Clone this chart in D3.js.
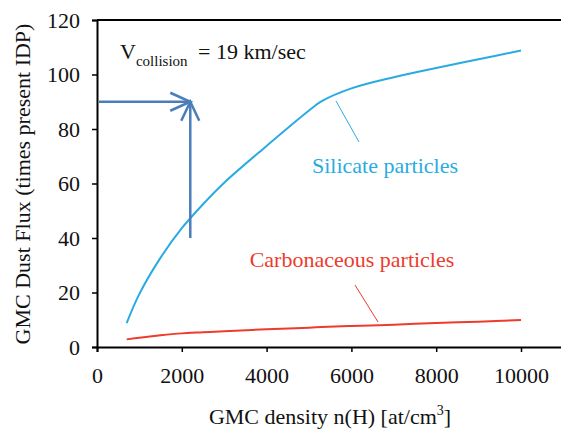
<!DOCTYPE html>
<html>
<head>
<meta charset="utf-8">
<script src="https://d3js.org/d3.v7.min.js"></script>
<style>
  body { margin: 0; background: #fff; }
</style>
</head>
<body>
<div id="chart"></div>
<script>
// Values
const density = [700, 1000, 1500, 2000, 2500, 3000, 4000, 5000, 5300, 6000, 7000, 8000, 9000, 10000];
const silicate = [8.8, 19.5, 32.8, 43.6, 52.4, 60.3, 73.8, 86.8, 90.2, 94.9, 99, 102.4, 105.6, 108.8];
const carbonaceous = [2.8, 3.4, 4.3, 5.0, 5.4, 5.8, 6.5, 7.1, 7.3, 7.7, 8.2, 8.8, 9.3, 9.9];
const xTicks = [0, 2000, 4000, 6000, 8000, 10000];
const yTicks = [0, 20, 40, 60, 80, 100, 120];
// reading guide: from the y axis at 90 over to x=2200, and up from 40
const guideX = 2200, guideY = 90, guideFromY = 40;

const width = 561, height = 430;
const margin = { top: 20, left: 97, bottom: 83 };

const svg = d3.select('#chart').append('svg')
    .attr('width', width)
    .attr('height', height);

const x = d3.scaleLinear().domain([0, 11000]).range([margin.left, margin.left + 466.4]);
const y = d3.scaleLinear().domain([0, 120]).range([height - margin.bottom, margin.top]);

// top frame line
svg.append('line')
    .attr('x1', x(0)).attr('x2', width)
    .attr('y1', y(120)).attr('y2', y(120))
    .attr('stroke', '#000').attr('stroke-width', 2);

// axes
const xAxis = svg.append('g')
    .attr('transform', `translate(0,${y(0)})`)
    .call(d3.axisBottom(x).tickValues(xTicks).tickFormat(d3.format('d')).tickSize(5).tickPadding(15));
xAxis.select('.domain').attr('stroke-width', 2);

const yAxis = svg.append('g')
    .attr('transform', `translate(${x(0)},0)`)
    .call(d3.axisLeft(y).tickValues(yTicks).tickSize(5).tickPadding(12));
yAxis.select('.domain').attr('stroke-width', 2);

svg.selectAll('.tick text')
    .attr('font-size', 22)
    .attr('fill', '#111');
svg.selectAll('.tick line').attr('stroke-width', 1.5);

// axis titles
const xTitle = svg.append('text')
    .attr('x', 330).attr('y', 424)
    .attr('text-anchor', 'middle')
    .attr('font-size', 22)
    .attr('fill', '#111');
xTitle.append('tspan').text('GMC density n(H) [at/cm');
xTitle.append('tspan').attr('dy', -9).attr('font-size', 14).text('3');
xTitle.append('tspan').attr('dy', 9).attr('font-size', 22).text(']');

svg.append('text')
    .attr('transform', 'translate(30,184) rotate(-90)')
    .attr('text-anchor', 'middle')
    .attr('font-size', 22)
    .attr('fill', '#111')
    .text('GMC Dust Flux (times present IDP)');

// curves
const line = d3.line()
    .x(d => x(d[0]))
    .y(d => y(d[1]))
    .curve(d3.curveCatmullRom.alpha(0.5));

svg.append('path')
    .datum(d3.zip(density, silicate))
    .attr('d', line)
    .attr('fill', 'none')
    .attr('stroke', '#29abe2')
    .attr('stroke-width', 2);

svg.append('path')
    .datum(d3.zip(density, carbonaceous))
    .attr('d', line)
    .attr('fill', 'none')
    .attr('stroke', '#ee3b2b')
    .attr('stroke-width', 2);

// series labels with leader lines
svg.append('line')
    .attr('x1', 336).attr('y1', 101).attr('x2', 359).attr('y2', 142)
    .attr('stroke', '#29abe2').attr('stroke-width', 1);
svg.append('text')
    .attr('x', 385).attr('y', 173)
    .attr('text-anchor', 'middle')
    .attr('font-size', 22)
    .attr('fill', '#29abe2')
    .text('Silicate particles');

svg.append('line')
    .attr('x1', 355).attr('y1', 285).attr('x2', 378).attr('y2', 322)
    .attr('stroke', '#ee3b2b').attr('stroke-width', 1);
svg.append('text')
    .attr('x', 352).attr('y', 267)
    .attr('text-anchor', 'middle')
    .attr('font-size', 22)
    .attr('fill', '#ee3b2b')
    .text('Carbonaceous particles');

// V_collision annotation
const vText = svg.append('text')
    .attr('x', 120).attr('y', 59)
    .attr('font-size', 22)
    .attr('fill', '#111');
vText.append('tspan').text('V');
vText.append('tspan').attr('dy', 7).attr('font-size', 15).text('collision');
vText.append('tspan').attr('x', 198).attr('dy', -7).attr('font-size', 22).text('= 19 km/sec');

// guide arrows
const arrowColor = '#4a7ebb';
const gx = x(guideX), gy = y(guideY);

svg.append('line')
    .attr('x1', x(0) + 2).attr('y1', gy).attr('x2', gx).attr('y2', gy)
    .attr('stroke', arrowColor).attr('stroke-width', 2.5);
svg.append('polyline')
    .attr('points', `${gx - 20},${gy - 9} ${gx},${gy} ${gx - 20},${gy + 9}`)
    .attr('fill', 'none').attr('stroke', arrowColor).attr('stroke-width', 2.5);

svg.append('line')
    .attr('x1', gx).attr('y1', y(guideFromY)).attr('x2', gx).attr('y2', gy + 1)
    .attr('stroke', arrowColor).attr('stroke-width', 2.5);
svg.append('polyline')
    .attr('points', `${gx - 9},${gy + 19} ${gx},${gy} ${gx + 9},${gy + 19}`)
    .attr('fill', 'none').attr('stroke', arrowColor).attr('stroke-width', 2.5);

// serif everywhere (inline style beats the axis' sans-serif attribute)
svg.selectAll('text').style('font-family', '"Liberation Serif"');
</script>
</body>
</html>
